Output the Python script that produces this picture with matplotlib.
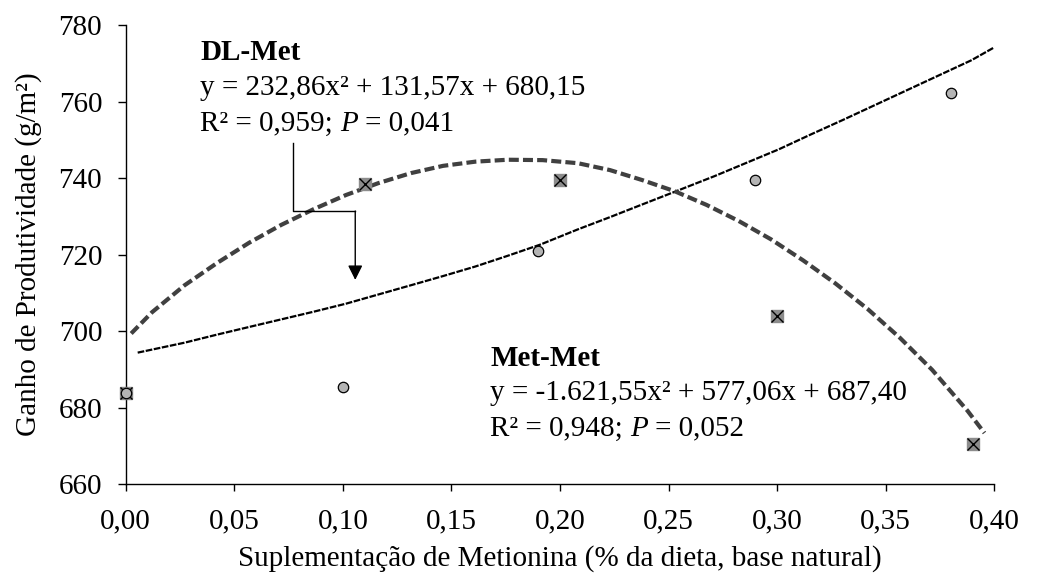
import numpy as np
import matplotlib
matplotlib.use("Agg")
import matplotlib.pyplot as plt
from matplotlib.transforms import offset_copy

plt.rcParams['font.family'] = ['Liberation Serif', 'DejaVu Serif']

# observed means
dl_x = [0.00, 0.10, 0.19, 0.29, 0.38]
dl_y = [683.8, 685.4, 721.0, 739.4, 762.2]
mm_x = [0.00, 0.11, 0.20, 0.30, 0.39]
mm_y = [683.8, 738.4, 739.5, 704.1, 670.6]

# trend lines
dl_fit_x = [0.0055, 0.0271, 0.0420, 0.0568, 0.0717, 0.0866, 0.1015, 0.1164, 0.1313,
            0.1461, 0.1610, 0.1759, 0.1908, 0.2082, 0.2230, 0.2378, 0.2527, 0.2711,
            0.2859, 0.3007, 0.3155, 0.3303, 0.3451, 0.3599, 0.3747, 0.3895, 0.4020]
dl_fit_y = [694.4, 697.0, 699.1, 701.1, 703.1, 705.1, 707.2, 709.6, 712.0,
            714.4, 716.9, 719.7, 722.6, 726.6, 729.8, 733.1, 736.4, 740.5,
            744.0, 747.5, 751.4, 755.2, 759.1, 763.0, 766.9, 770.8, 774.8]
mm_fit_x = [0.0025, 0.0122, 0.0271, 0.0420, 0.0568, 0.0717, 0.0866, 0.1015, 0.1164,
            0.1313, 0.1461, 0.1610, 0.1759, 0.1920, 0.2082, 0.2230, 0.2378, 0.2527,
            0.2675, 0.2823, 0.2972, 0.3120, 0.3268, 0.3417, 0.3565, 0.3714, 0.3877,
            0.3955]
mm_fit_y = [699.4, 705.0, 712.0, 717.8, 723.1, 727.8, 731.9, 735.6, 738.7,
            741.3, 743.2, 744.3, 744.8, 744.7, 743.9, 742.1, 739.5, 736.6,
            733.0, 728.8, 724.0, 718.5, 712.5, 705.8, 698.3, 689.9, 679.2,
            673.4]

fs = 21

fig = plt.figure(figsize=(10.54, 5.74), dpi=100)
ax = fig.add_axes([0.1193, 0.1563, 0.824, 0.8001])

ax.plot(dl_fit_x, dl_fit_y, color='black', lw=1.6, dashes=(3.0, 0.7),
        dash_joinstyle='round', zorder=2)
ax.plot(mm_fit_x, mm_fit_y, color='#404040', lw=3.0, dashes=(2.4, 1.0),
        dash_joinstyle='round', zorder=2)

ax.plot(mm_x, mm_y, ls='none', marker='s', ms=9, mfc='#8c8c8c', mec='#8c8c8c',
        clip_on=False, zorder=3)
ax.plot(mm_x, mm_y, ls='none', marker='x', ms=8, mec='black', mew=1.0,
        clip_on=False, zorder=4)
ax.plot(dl_x, dl_y, ls='none', marker='o', ms=7.5, mfc='#b4b4b4', mec='black',
        mew=0.9, clip_on=False, zorder=5)

ax.set_xlim(0, 0.40)
ax.set_ylim(660, 780)
xt = np.arange(0, 0.401, 0.05)
ax.set_xticks(xt)
ax.set_xticklabels([f'{v:.2f}'.replace('.', ',') for v in xt])
ax.set_yticks(np.arange(660, 781, 20))
for s in ['top', 'right']:
    ax.spines[s].set_visible(False)
for s in ['left', 'bottom']:
    ax.spines[s].set_linewidth(1.0)
ax.tick_params(axis='both', direction='out', width=1.0, labelsize=fs, colors='black')
ax.tick_params(axis='y', length=6, pad=11)
ax.tick_params(axis='x', length=5, pad=12)

ax.set_xlabel('Suplementação de Metionina (% da dieta, base natural)', fontsize=fs, labelpad=8)
ax.set_ylabel('Ganho de Produtividade (g/m²)', fontsize=fs, labelpad=12)


def stat_line(x, y, r2, p):
    # "R² = ...; P = ..." with an italic P, built from three pieces
    renderer = fig.canvas.get_renderer()
    space = 0.25 * fs * fig.dpi / 72
    dx = 0
    for s, style in [(f'R² = {r2};', 'normal'), ('P', 'italic'), (f'= {p}', 'normal')]:
        tr = offset_copy(ax.transData, fig=fig, x=dx, y=0, units='dots')
        t = ax.text(x, y, s, fontsize=fs, style=style, va='baseline', transform=tr)
        dx += t.get_window_extent(renderer).width + space


ax.text(0.0342, 770.9, 'DL-Met', fontsize=fs, fontweight='bold', va='baseline')
ax.text(0.0342, 761.8, 'y = 232,86x² + 131,57x + 680,15', fontsize=fs, va='baseline')
stat_line(0.0342, 752.4, '0,959', '0,041')

ax.text(0.1678, 690.9, 'Met-Met', fontsize=fs, fontweight='bold', va='baseline')
ax.text(0.1678, 682.0, 'y = -1.621,55x² + 577,06x + 687,40', fontsize=fs, va='baseline')
stat_line(0.1678, 672.7, '0,948', '0,052')

# elbow arrow from the DL-Met label to its curve
ax.plot([0.0769, 0.0769, 0.1057], [749.2, 731.3, 731.3], color='black', lw=1.0)
ax.annotate('', xy=(0.1057, 713.4), xytext=(0.1057, 731.4),
            arrowprops=dict(arrowstyle='-|>', color='black', lw=1.0,
                            mutation_scale=22, shrinkA=0, shrinkB=0))

fig.savefig('out.png', dpi=100)
